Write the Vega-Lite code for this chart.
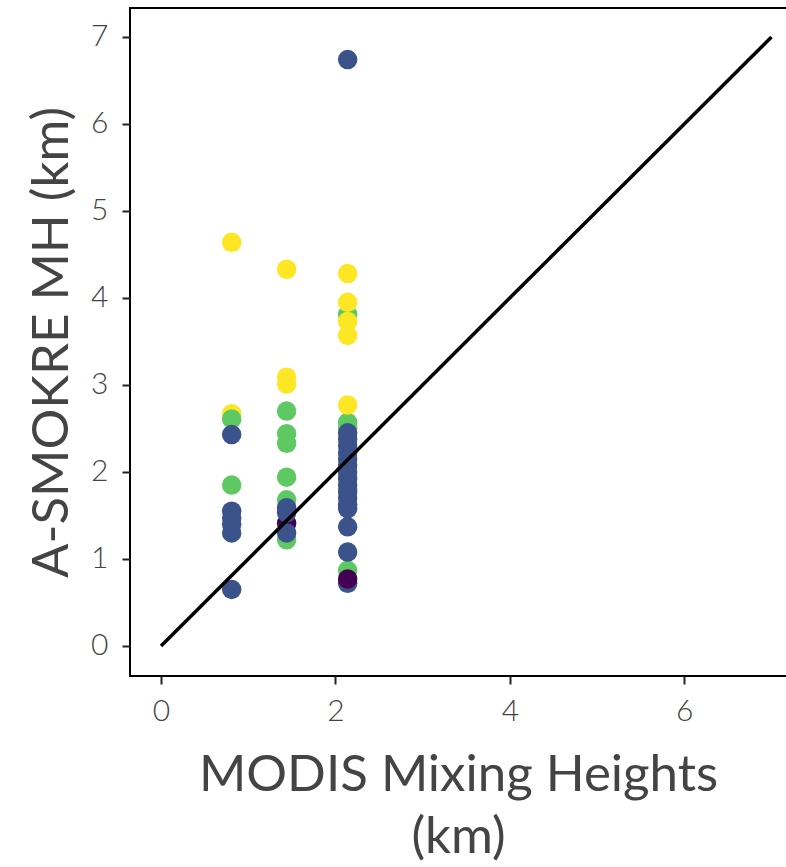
{
  "$schema": "https://vega.github.io/schema/vega-lite/v6.json",
  "autosize": {"type": "none"},
  "padding": {"left": 130, "top": 8, "right": 0, "bottom": 191},
  "width": 680,
  "height": 668,
  "background": "white",
  "config": {
    "view": {"stroke": "black", "strokeWidth": 2},
    "font": "Lato",
    "axis": {
      "domain": false,
      "grid": false,
      "tickColor": "#222",
      "tickSize": 8,
      "tickWidth": 2,
      "labelColor": "#444",
      "labelFont": "Lato",
      "labelFontSize": 30,
      "labelFontWeight": 300,
      "titleColor": "#444",
      "titleFont": "Lato",
      "titleFontSize": 51,
      "titleFontWeight": 400,
      "format": "d"
    }
  },
  "layer": [
    {
      "data": {"values": [
        {"x": 0.81, "y": 4.64, "g": "d"},
        {"x": 0.81, "y": 2.67, "g": "d"},
        {"x": 0.81, "y": 2.61, "g": "c"},
        {"x": 0.81, "y": 1.85, "g": "c"},
        {"x": 0.81, "y": 2.43, "g": "b"},
        {"x": 0.81, "y": 1.55, "g": "b"},
        {"x": 0.81, "y": 1.47, "g": "b"},
        {"x": 0.81, "y": 1.40, "g": "b"},
        {"x": 0.81, "y": 1.30, "g": "b"},
        {"x": 0.81, "y": 0.65, "g": "b"},
        {"x": 1.44, "y": 4.33, "g": "d"},
        {"x": 1.44, "y": 3.09, "g": "d"},
        {"x": 1.44, "y": 3.01, "g": "d"},
        {"x": 1.44, "y": 2.70, "g": "c"},
        {"x": 1.44, "y": 2.44, "g": "c"},
        {"x": 1.44, "y": 2.33, "g": "c"},
        {"x": 1.44, "y": 1.94, "g": "c"},
        {"x": 1.44, "y": 1.68, "g": "c"},
        {"x": 1.44, "y": 1.22, "g": "c"},
        {"x": 1.44, "y": 1.41, "g": "a"},
        {"x": 1.44, "y": 1.59, "g": "b"},
        {"x": 1.44, "y": 1.53, "g": "b"},
        {"x": 1.44, "y": 1.30, "g": "b"},
        {"x": 2.14, "y": 3.81, "g": "c"},
        {"x": 2.14, "y": 4.28, "g": "d"},
        {"x": 2.14, "y": 3.95, "g": "d"},
        {"x": 2.14, "y": 3.73, "g": "d"},
        {"x": 2.14, "y": 3.57, "g": "d"},
        {"x": 2.14, "y": 2.57, "g": "c"},
        {"x": 2.14, "y": 2.50, "g": "c"},
        {"x": 2.14, "y": 1.95, "g": "c"},
        {"x": 2.14, "y": 1.80, "g": "c"},
        {"x": 2.14, "y": 0.87, "g": "c"},
        {"x": 2.14, "y": 2.77, "g": "d"},
        {"x": 2.14, "y": 2.35, "g": "d"},
        {"x": 2.14, "y": 6.74, "g": "b"},
        {"x": 2.14, "y": 2.45, "g": "b"},
        {"x": 2.14, "y": 2.38, "g": "b"},
        {"x": 2.14, "y": 2.30, "g": "b"},
        {"x": 2.14, "y": 2.22, "g": "b"},
        {"x": 2.14, "y": 2.15, "g": "b"},
        {"x": 2.14, "y": 2.08, "g": "b"},
        {"x": 2.14, "y": 2.00, "g": "b"},
        {"x": 2.14, "y": 1.92, "g": "b"},
        {"x": 2.14, "y": 1.85, "g": "b"},
        {"x": 2.14, "y": 1.77, "g": "b"},
        {"x": 2.14, "y": 1.70, "g": "b"},
        {"x": 2.14, "y": 1.63, "g": "b"},
        {"x": 2.14, "y": 1.58, "g": "b"},
        {"x": 2.14, "y": 1.37, "g": "b"},
        {"x": 2.14, "y": 1.08, "g": "b"},
        {"x": 2.14, "y": 0.72, "g": "b"},
        {"x": 2.14, "y": 0.77, "g": "a"}
      ]},
      "mark": {"type": "circle", "size": 380, "opacity": 1},
      "encoding": {
        "x": {
          "field": "x", "type": "quantitative",
          "scale": {"domain": [-0.356, 7.442], "nice": false, "zero": false},
          "axis": {"values": [0, 2, 4, 6], "title": ["MODIS Mixing Heights", "(km)"], "labelPadding": 12, "titlePadding": 24, "titleLineHeight": 62, "titleX": 328}
        },
        "y": {
          "field": "y", "type": "quantitative",
          "scale": {"domain": [-0.345, 7.333], "nice": false, "zero": false},
          "axis": {"values": [0, 1, 2, 3, 4, 5, 6, 7], "title": "A-SMOKRE MH (km)", "labelPadding": 14, "titlePadding": 12}
        },
        "color": {
          "field": "g", "type": "nominal",
          "scale": {"domain": ["a", "b", "c", "d"], "range": ["#440154", "#3b528b", "#5ec962", "#fde725"]},
          "legend": null
        }
      }
    },
    {
      "data": {"values": [{"x": 0, "y": 0}, {"x": 7, "y": 7}]},
      "mark": {"type": "line", "color": "black", "strokeWidth": 3.5},
      "encoding": {
        "x": {"field": "x", "type": "quantitative"},
        "y": {"field": "y", "type": "quantitative"}
      }
    }
  ]
}
